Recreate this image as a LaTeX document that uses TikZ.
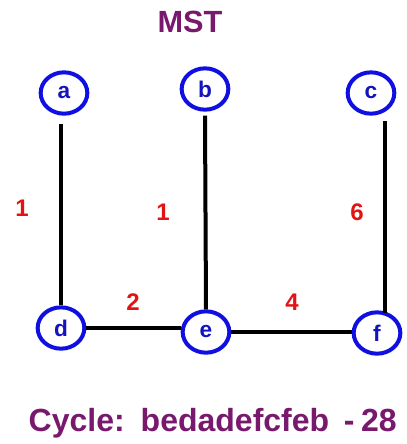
\documentclass[tikz,border=0pt]{standalone}
\usepackage{fontspec}
\setmainfont{Liberation Sans}
\usetikzlibrary{shapes.geometric}
\definecolor{nodeblue}{RGB}{15,15,225}
\definecolor{lettblue}{RGB}{20,20,190}
\definecolor{wred}{RGB}{225,20,20}
\definecolor{titlep}{RGB}{120,25,110}
\tikzset{
  vert/.style={draw=nodeblue, text=lettblue, line width=3pt, ellipse, fill=white, minimum width=35pt, minimum height=31pt, inner sep=0pt, font=\fontsize{17}{17}\selectfont\bfseries},
  edge/.style={line width=3pt, black},
  wt/.style={text=wred, font=\fontsize{18}{18}\selectfont\bfseries},
  ttl/.style={text=titlep, font=\fontsize{23}{23}\selectfont\bfseries}
}
\begin{document}
\begin{tikzpicture}[x=0.75pt,y=-0.75pt]
\useasboundingbox (0,0) rectangle (407,444);
\node[ttl] (title) at (190,22) {MST};
\node[vert] (a) at (64,93) {a};
\node[vert] (b) at (205,89) {b};
\node[vert] (c) at (371,93) {c};
\node[vert] (d) at (61,328) {d};
\node[vert] (e) at (206,332) {e};
\node[vert] (f) at (377,333) {f};
\draw[edge] ([xshift=-2.25pt,yshift=-6pt]a.south) -- (d.north);
\draw[edge] ([yshift=-3pt]b.south) -- (e.north);
\draw[edge] ([xshift=10.5pt,yshift=-4pt]c.south) -- ([xshift=6pt,yshift=-2pt]f.north);
\draw[edge] (d.east) -- (d.east -| e.west);
\draw[edge] (e.east) -- (e.east -| f.west);
\node[wt] (w1) at (22,208) {1};
\node[wt] (w2) at (163,212) {1};
\node[wt] (w3) at (357,212) {6};
\node[wt] (w4) at (133,302) {2};
\node[wt] (w5) at (292,302) {4};
\node[ttl, font=\fontsize{24}{24}\selectfont\bfseries, anchor=base west] (cyc) at (24,431) {Cycle:\hspace{12pt}bedadefcfeb\hspace{11pt}-\hspace{5pt}28};
\end{tikzpicture}
\end{document}
